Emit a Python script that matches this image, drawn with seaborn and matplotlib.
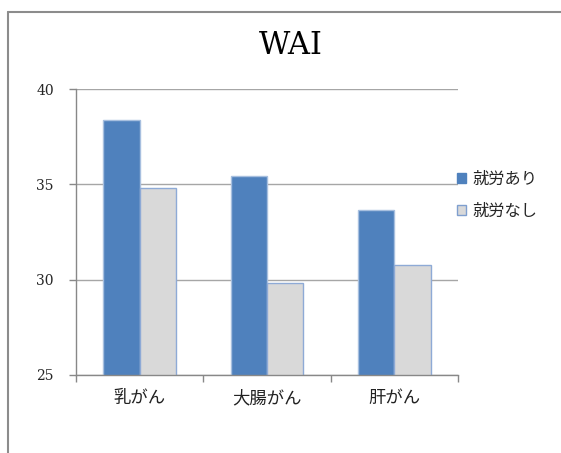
import matplotlib
matplotlib.use("Agg")
import matplotlib.pyplot as plt
import seaborn as sns
import pandas as pd
from matplotlib.lines import Line2D
from matplotlib.patches import Patch

categories = ["乳がん", "大腸がん", "肝がん"]
series_names = ["就労あり", "就労なし"]
employed = [38.37, 35.44, 33.65]
not_employed = [34.79, 29.84, 30.79]
y_ticks = [25, 30, 35, 40]

df = pd.DataFrame({
    "cancer": categories * 2,
    "group": [series_names[0]] * 3 + [series_names[1]] * 3,
    "WAI": employed + not_employed,
})

sns.set_theme(style="white")
plt.rcParams["font.family"] = ["Noto Sans CJK JP", "DejaVu Sans"]

fig = plt.figure(figsize=(5.61, 4.53), dpi=100)
ax = fig.add_axes([76 / 561, 1 - 375 / 453, (458 - 76) / 561, (375 - 89) / 453])

palette = {series_names[0]: "#4f81bd", series_names[1]: "#d9d9d9"}
sns.barplot(data=df, x="cancer", y="WAI", hue="group", palette=palette,
            width=0.57, gap=0, ax=ax, legend=False, saturation=1)

edge_cols = ["#a7bfdf"] * 3 + ["#8eaad6"] * 3
for patch, ec in zip(ax.patches, edge_cols):
    patch.set_edgecolor(ec)
    patch.set_linewidth(1.0)

ax.set_ylim(25, 40)
ax.set_xlim(-0.5, 2.5)
ax.set_yticks(y_ticks)
ax.set_yticklabels([str(t) for t in y_ticks], family="DejaVu Serif", fontsize=10)
ax.yaxis.grid(True, color="#a6a6a6", linewidth=1.0)
ax.set_axisbelow(True)
ax.set_xlabel("")
ax.set_ylabel("")

ax.set_xticks([0, 1, 2])
ax.set_xticklabels(categories, fontsize=12.5, color="#222222")
ax.set_xticks([-0.5, 0.5, 1.5, 2.5], minor=True)
ax.tick_params(axis="x", which="major", bottom=True, length=0, pad=10)
ax.tick_params(axis="x", which="minor", bottom=True, length=5, color="#888888",
               width=1, direction="out")
ax.tick_params(axis="y", left=True, length=5, color="#888888", width=1,
               direction="out", pad=11)

for side in ["top", "right"]:
    ax.spines[side].set_visible(False)
for side in ["left", "bottom"]:
    ax.spines[side].set_color("#888888")
    ax.spines[side].set_linewidth(1.0)

fig.text(291 / 561, 1 - 45 / 453, "WAI", family="DejaVu Serif", fontsize=22,
         ha="center", va="center", color="black")

handles = [Patch(facecolor=palette[n], edgecolor=ec, linewidth=1.0)
           for n, ec in zip(series_names, ["#4f81bd", "#7f9fcf"])]
fig.legend(handles, series_names, loc="upper left",
           bbox_to_anchor=(450 / 561, 1 - 164 / 453), frameon=False,
           fontsize=11.7, handlelength=0.6, handleheight=0.6, handletextpad=0.4,
           labelspacing=0.95, borderaxespad=0)

# outer chart frame
fig.add_artist(Line2D([8 / 561, 8 / 561], [0, 1 - 12 / 453], transform=fig.transFigure,
                      color="#8c8c8c", linewidth=1.5))
fig.add_artist(Line2D([8 / 561, 1], [1 - 12 / 453, 1 - 12 / 453], transform=fig.transFigure,
                      color="#8c8c8c", linewidth=1.5))

fig.savefig("out.png", dpi=100)
